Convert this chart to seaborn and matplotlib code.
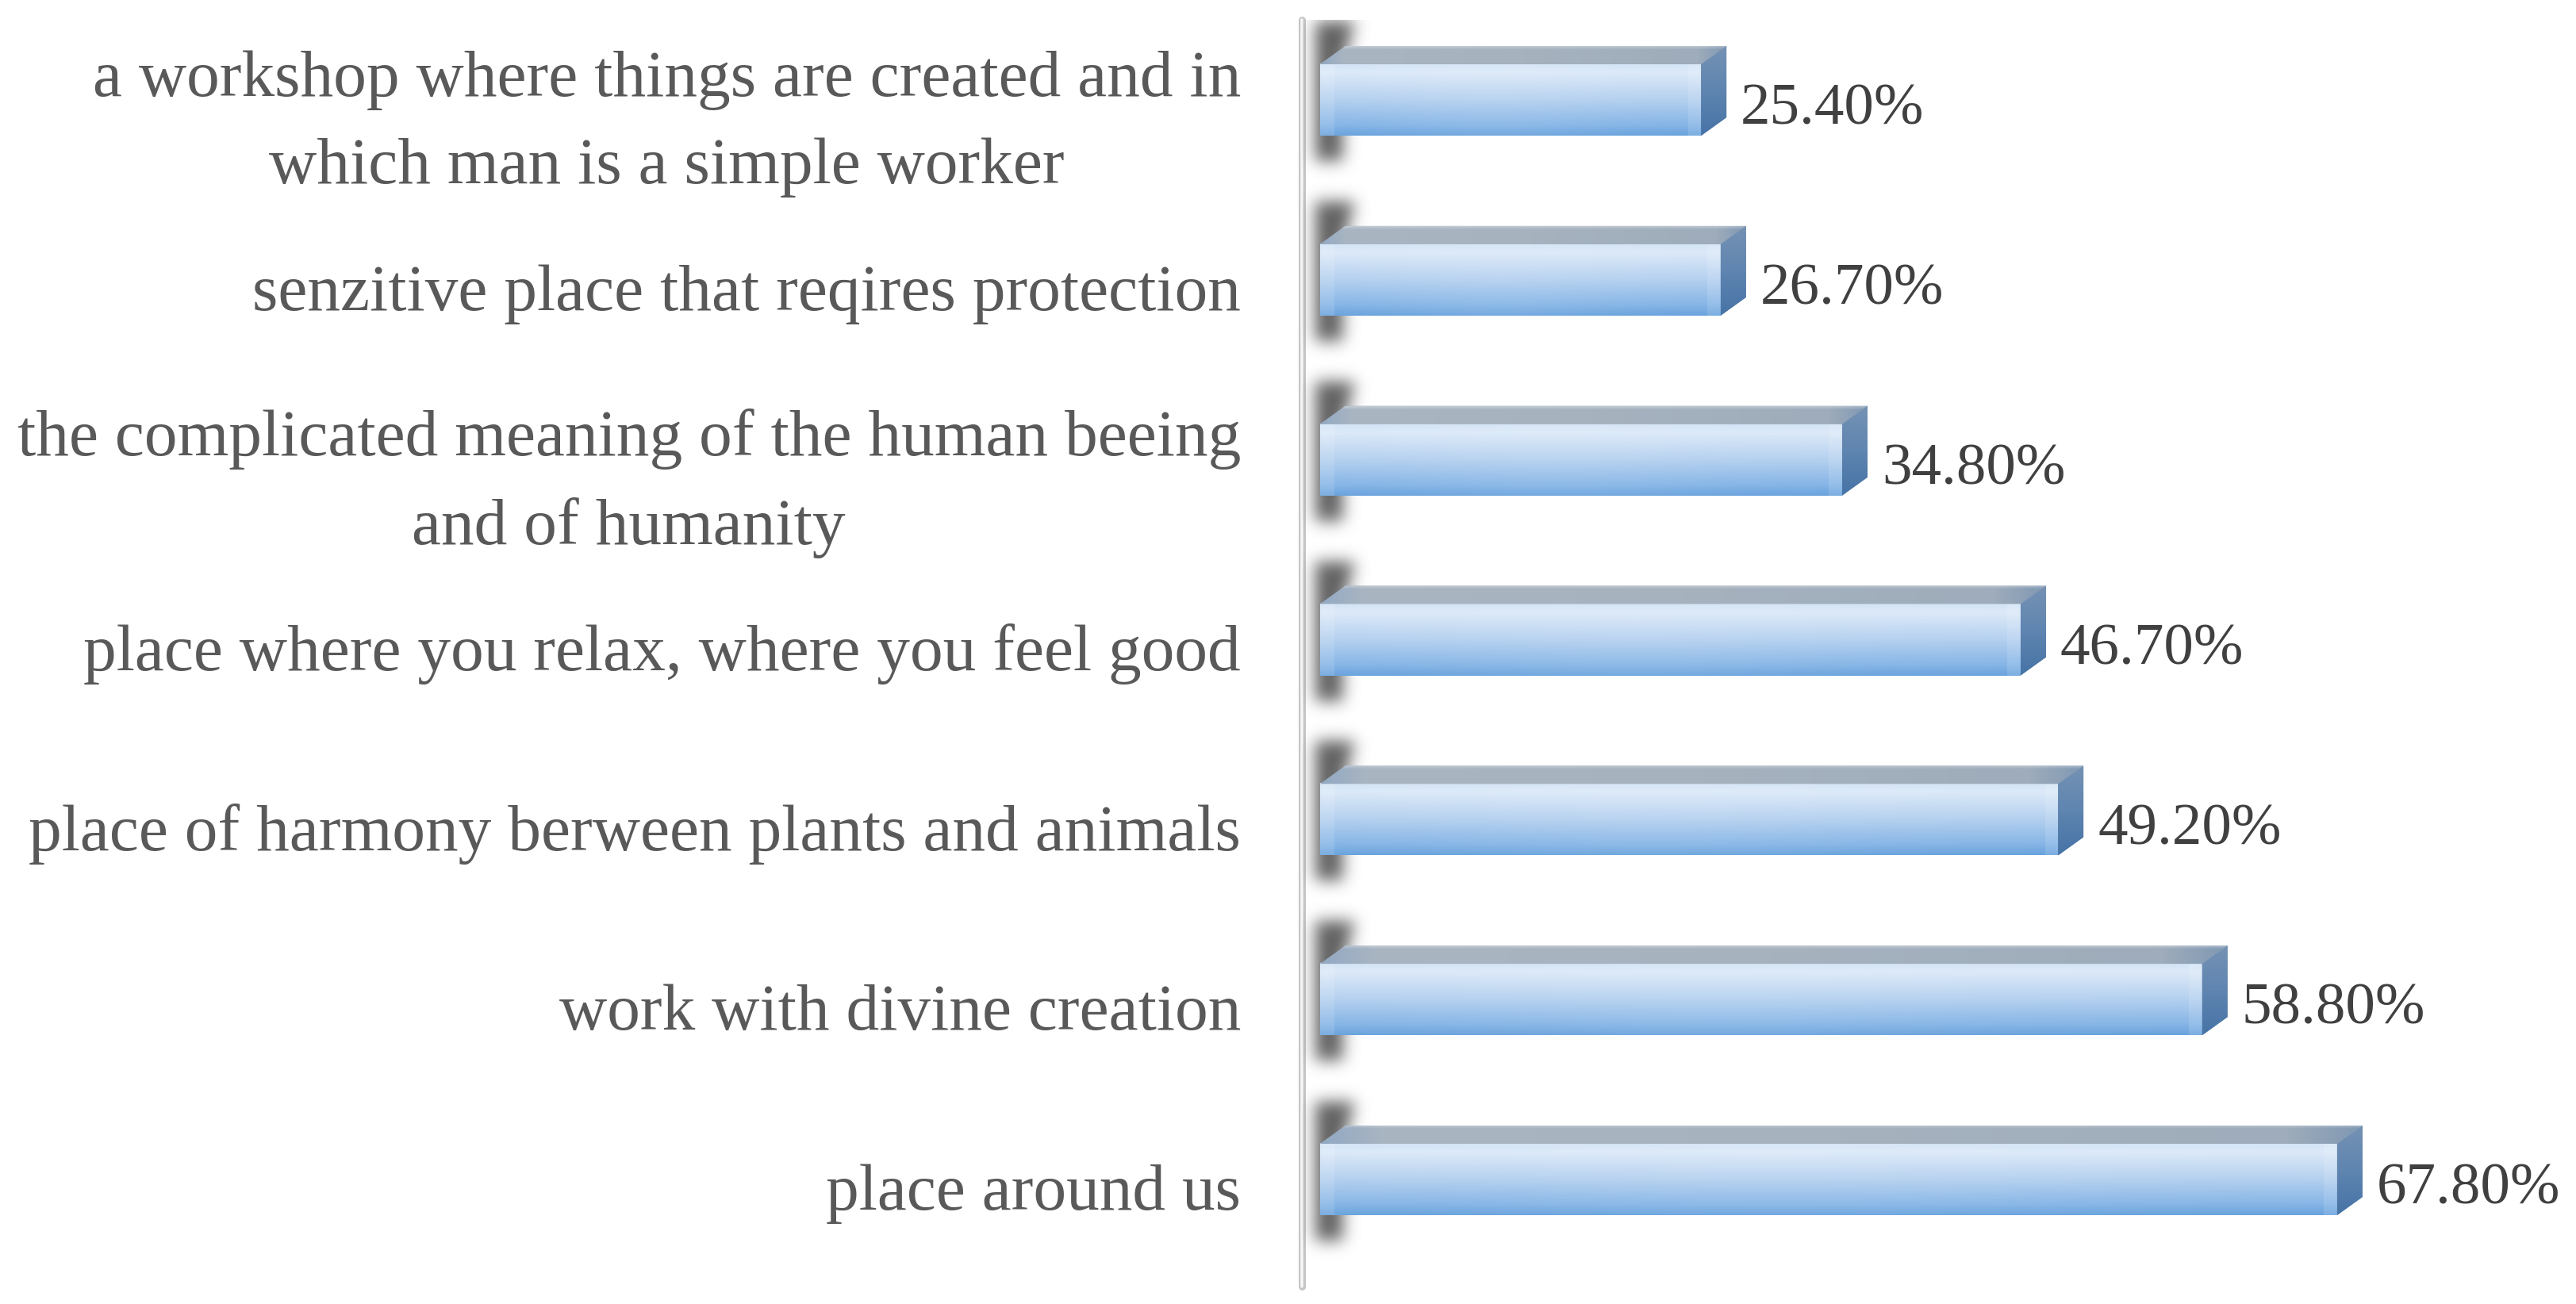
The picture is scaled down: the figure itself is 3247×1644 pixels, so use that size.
import numpy as np
import pandas as pd
import matplotlib
matplotlib.use("Agg")
import matplotlib.pyplot as plt
import matplotlib.transforms as mtransforms
from matplotlib.patches import Polygon
from matplotlib.colors import to_rgb
import seaborn as sns

# ---------------- data ----------------
categories = [
    "a workshop where things are created and in\nwhich man is a simple worker",
    "senzitive place that reqires protection",
    "the complicated meaning of the human beeing\nand of humanity",
    "place where you relax, where you feel good",
    "place of harmony berween plants and animals",
    "work with divine creation",
    "place around us",
]
values = [25.4, 26.7, 34.8, 46.7, 49.2, 58.8, 67.8]
value_labels = ["25.40%", "26.70%", "34.80%", "46.70%", "49.20%", "58.80%", "67.80%"]

df = pd.DataFrame({"category": categories, "value": values})

# ---------------- style ----------------
sns.set_theme(style="white")
plt.rcParams["font.family"] = ["Liberation Serif", "DejaVu Serif"]

W, H, DPI = 3248, 1644, 200
fig = plt.figure(figsize=(W / DPI, H / DPI), dpi=DPI)
fig.patch.set_facecolor("white")
ax = fig.add_axes([1641 / W, 1 - 1622 / H, 1 - 1641 / W, (1622 - 25) / H])
ax.set_facecolor("white")

sns.barplot(data=df, y="category", x="value", orient="h", width=0.397,
            color="#8db6e4", saturation=1, ax=ax, zorder=2, linewidth=0)

XLIM = (-1.217, 83.78)
YLIM = (6.595, -0.4453)
ax.set_xlim(*XLIM)
ax.set_ylim(*YLIM)
for s in ax.spines.values():
    s.set_visible(False)
ax.set_xticks([])
ax.set_yticks([])
ax.set_xlabel("")
ax.set_ylabel("")
ax.grid(False)

T = ax.transData
inv = T.inverted()
DX, DY = 32, 23  # depth of the 3D effect in pixels


def stops_to_rgb(stops, n):
    pos = np.array([s[0] for s in stops])
    cols = np.array([to_rgb(s[1]) for s in stops])
    t = np.linspace(0, 1, n)
    return np.stack([np.interp(t, pos, cols[:, k]) for k in range(3)], axis=1)


def gauss_blur(a, sigma):
    r = int(3 * sigma)
    k = np.exp(-0.5 * (np.arange(-r, r + 1) / sigma) ** 2)
    k /= k.sum()
    a = np.apply_along_axis(lambda m: np.convolve(m, k, mode="same"), 0, a)
    a = np.apply_along_axis(lambda m: np.convolve(m, k, mode="same"), 1, a)
    return a


def disp_extent(xa, xb, ya, yb):
    # display box -> data extent (left, right, bottom, top) for origin='upper'
    (l, top) = inv.transform((xa, yb))
    (r, bot) = inv.transform((xb, ya))
    return (l, r, bot, top)


front_v = stops_to_rgb([(0, "#d3e4f6"), (0.12, "#dce9f8"), (0.5, "#b4d0ef"),
                        (0.85, "#86b5e6"), (1, "#6aa3dd")], 90)
top_h_stops = [(0, "#92a9c4"), (0.06, "#a9b5c1"), (0.5, "#a6b2be"), (0.93, "#9eacbb"), (1, "#8098b3")]
side_v = stops_to_rgb([(0, "#7692b4"), (0.5, "#5f85b0"), (1, "#4673a6")], 90)

bars = list(ax.patches)
geoms = []
for p in bars:
    x0, y0, w, h = p.get_x(), p.get_y(), p.get_width(), p.get_height()
    tl = T.transform((x0, y0))
    tr = T.transform((x0 + w, y0))
    bl = T.transform((x0, y0 + h))
    br = T.transform((x0 + w, y0 + h))
    geoms.append((x0, y0, w, h, tl, tr, bl, br))

for (x0, y0, w, h, tl, tr, bl, br) in geoms:
    # --- shadow on the wall ---
    xa, xb = tl[0] - 50, tl[0] + 100
    ya, yb = bl[1] - 90, tl[1] + DY + 90
    nx, ny = int(xb - xa), int(yb - ya)
    xs = xa + np.arange(nx) + 0.5
    ys = yb - np.arange(ny) - 0.5
    XX, YY = np.meshgrid(xs, ys)
    # slanted right edge near the top (follows the bevel)
    right = tl[0] + 28 + 14 * np.clip((YY - tl[1]) / (DY + 25), 0, 1)
    mask = ((XX >= tl[0] - 6) & (XX <= right) &
            (YY >= bl[1] - 32) & (YY <= tl[1] + DY + 30)).astype(float)
    mask = gauss_blur(mask, 10)
    sh = np.zeros((ny, nx, 4))
    sh[..., :3] = 0.26
    sh[..., 3] = 0.85 * mask
    ax.imshow(sh, extent=disp_extent(xa, xb, ya, yb), origin="upper",
              aspect="auto", zorder=1, interpolation="bilinear")

    # --- front face gradient ---
    pxw = max(int(br[0] - bl[0]), 10)
    img = np.repeat(front_v[:, None, :], pxw, axis=1)
    xpx = np.arange(pxw)
    u = xpx / pxw
    glow = 0.07 * np.exp(-((u - 0.45) / 0.3) ** 2)
    edge = 0.12 * ((xpx < 18) | (xpx > pxw - 18))
    img = img + (1 - img) * (glow + edge)[None, :, None]
    ax.imshow(img, extent=(x0, x0 + w, y0 + h, y0), origin="upper",
              aspect="auto", zorder=3, interpolation="bilinear")

    # --- top face ---
    top_pts = np.array([tl, tr, tr + (DX, DY), tl + (DX, DY)])
    top_poly = Polygon(inv.transform(top_pts), closed=True, facecolor="#a5b1be",
                       edgecolor="none", zorder=3)
    ax.add_patch(top_poly)
    nxt, nyt = 300, 30
    th = stops_to_rgb(top_h_stops, nxt)
    timg = np.repeat(th[None, :, :], nyt, axis=0)
    vv = np.linspace(0, 1, nyt)
    lift = 0.30 * np.clip(1 - vv / 0.18, 0, 1)
    timg = timg + (1 - timg) * lift[:, None, None]
    im = ax.imshow(timg, extent=disp_extent(tl[0], tr[0] + DX, tl[1], tl[1] + DY),
                   origin="upper", aspect="auto", zorder=3.1, interpolation="bilinear")
    im.set_clip_path(top_poly)

    # --- side face ---
    side_pts = np.array([tr, br, br + (DX, DY), tr + (DX, DY)])
    side_poly = Polygon(inv.transform(side_pts), closed=True, facecolor="#5f85b0",
                        edgecolor="none", zorder=3)
    ax.add_patch(side_poly)
    simg = np.repeat(side_v[:, None, :], 20, axis=1)
    im2 = ax.imshow(simg, extent=disp_extent(tr[0], tr[0] + DX, br[1], tr[1] + DY),
                    origin="upper", aspect="auto", zorder=3.1, interpolation="bilinear")
    im2.set_clip_path(side_poly)

# --- value labels ---
for (x0, y0, w, h, *_), lbl in zip(geoms, value_labels):
    ax.annotate(lbl, xy=(x0 + w, y0 + h / 2), xytext=(50 * 72 / DPI, -13 * 72 / DPI),
                textcoords="offset points", ha="left", va="center",
                fontsize=27, color="#404040", zorder=5)

# --- category labels ---
for i, cat in enumerate(categories):
    nlines = cat.count("\n") + 1
    off = mtransforms.ScaledTranslation(-77 / DPI, -(18 + 12 * (nlines - 1)) / DPI,
                                        fig.dpi_scale_trans)
    ax.text(0, i, cat, transform=ax.get_yaxis_transform() + off,
            ha="right", va="center", multialignment="center",
            fontsize=30, color="#595959", linespacing=1.6)

# --- wall edge line ---
ax.plot([0, 0], [0.0, 1.0], transform=ax.transAxes, color="#c6c6c6",
        lw=9 * 72 / DPI, solid_capstyle="round", clip_on=False, zorder=0.5)
ax.plot([0, 0], [0.0, 1.0], transform=ax.transAxes, color="#f7f7f7",
        lw=3.5 * 72 / DPI, solid_capstyle="round", clip_on=False, zorder=0.6)

ax.set_xlim(*XLIM)
ax.set_ylim(*YLIM)

fig.savefig("out.png", dpi=DPI, facecolor="white")
